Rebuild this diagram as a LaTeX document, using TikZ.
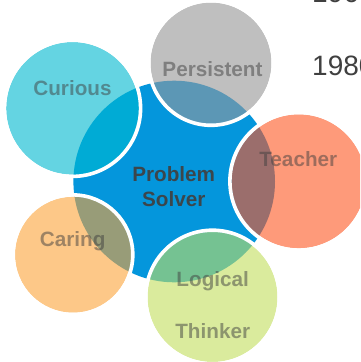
\documentclass[tikz,border=0pt]{standalone}
\usepackage{fontspec}
\setmainfont{Liberation Sans}
\definecolor{hubblue}{HTML}{0496DC}
\definecolor{curiousL}{HTML}{64D4E2}
\definecolor{curiousD}{HTML}{00ABD5}
\definecolor{persistL}{HTML}{BFBFBF}
\definecolor{persistD}{HTML}{5C97B5}
\definecolor{teacherL}{HTML}{FE9A7A}
\definecolor{teacherD}{HTML}{9B6E6C}
\definecolor{caringL}{HTML}{FDC888}
\definecolor{caringD}{HTML}{989C78}
\definecolor{logicalL}{HTML}{DAEB9D}
\definecolor{logicalD}{HTML}{75C292}
\definecolor{labelgray}{HTML}{404040}
\tikzset{
  petal/.style={circle, inner sep=0pt, outer sep=0pt, draw=none},
  petallabel/.style={font=\bfseries\fontsize{20.7}{25}\selectfont, text=labelgray, text opacity=0.5, inner sep=0pt, align=center},
  hublabel/.style={font=\bfseries\fontsize{20.7}{25}\selectfont, text=labelgray, text opacity=0.92, inner sep=0pt, align=center},
  yearlabel/.style={font=\fontsize{28}{30}\selectfont, text=labelgray, inner sep=0pt, anchor=base west},
  ring/.style={draw=white, line width=3.6pt}
}
\begin{document}
\begin{tikzpicture}[x=1pt,y=-1pt]
\useasboundingbox (0,0) rectangle (360,362);
\clip (0,0) rectangle (360,362);
\node[petal, fill=hubblue, minimum size=201.6pt] (hub) at (174.2,181.5) {};
\foreach \nm/\cx/\cy/\r/\lc/\dc in {
  curious/72.5/108.3/66.3/curiousL/curiousD,
  persistent/211/63/60.5/persistL/persistD,
  teacher/298.7/181.3/67/teacherL/teacherD,
  caring/73/254.7/58/caringL/caringD,
  logical/212.5/297/65/logicalL/logicalD}{
  \node[petal, fill=\lc, minimum size=2*\r pt] (\nm) at (\cx,\cy) {};
  \begin{scope}
    \clip (hub.center) circle[radius=100.8];
    \fill[\dc] (\nm.center) circle[radius=\r];
  \end{scope}
  \draw[ring] (\nm.center) circle[radius=\r+1.8];
}
\node[hublabel] (hubtext) at (173.7,186.8) {Problem\\Solver};
\node[petallabel, anchor=base] (tcurious) at (72.5,95) {Curious};
\node[petallabel, anchor=base] (tpersistent) at (212.5,76) {Persistent};
\node[petallabel, anchor=base] (tteacher) at (298.3,166.7) {Teacher};
\node[petallabel, anchor=base] (tcaring) at (72.7,246.7) {Caring};
\node[petallabel, anchor=center] (tlogical) at (212.7,305) {Logical\\[26.6pt]Thinker};
\node[yearlabel] (yeara) at (312,2.3) {1960};
\node[yearlabel] (yearb) at (312,75.5) {1980};
\end{tikzpicture}
\end{document}
